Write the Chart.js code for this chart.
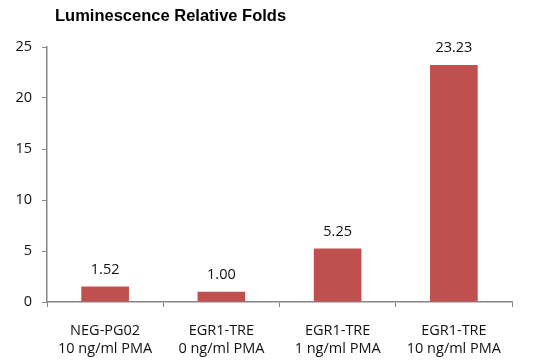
<!DOCTYPE html>
<html>
<head>
<meta charset="utf-8">
<script src="https://cdn.jsdelivr.net/npm/chart.js@4"></script>
<style>
  html, body { margin: 0; padding: 0; background: #fff; }
  #wrap { width: 544px; height: 364px; position: relative; }
</style>
</head>
<body>
<div id="wrap"><canvas id="myChart" width="544" height="364"></canvas></div>
<script>
const categories = [
  ["NEG-PG02", "10 ng/ml PMA"],
  ["EGR1-TRE", "0 ng/ml PMA"],
  ["EGR1-TRE", "1 ng/ml PMA"],
  ["EGR1-TRE", "10 ng/ml PMA"]
];
const folds = [1.52, 1.00, 5.25, 23.23];
const yTicks = [0, 5, 10, 15, 20, 25];
const chartTitle = "Luminescence Relative Folds";

const tickFont = { family: "'Open Sans', sans-serif", size: 14.5, lineHeight: 1.25 };

// title + value labels drawn on the canvas
const extras = {
  id: 'extras',
  afterDraw(chart) {
    const ctx = chart.ctx;
    ctx.save();
    ctx.fillStyle = '#000';
    ctx.font = "bold 16.5px 'Liberation Sans', Arial, sans-serif";
    ctx.textBaseline = 'middle';
    ctx.textAlign = 'left';
    ctx.fillText(chartTitle, 55, 16);

    ctx.fillStyle = '#111';
    ctx.font = "14.5px 'Open Sans', sans-serif";
    ctx.textAlign = 'center';
    const meta = chart.getDatasetMeta(0);
    meta.data.forEach((bar, i) => {
      ctx.fillText(folds[i].toFixed(2), bar.x, bar.y - 17);
    });
    ctx.restore();
  }
};

new Chart(document.getElementById('myChart'), {
  type: 'bar',
  data: {
    labels: categories,
    datasets: [{
      data: folds,
      backgroundColor: '#C0504D',
      borderWidth: 0,
      categoryPercentage: 1,
      barPercentage: 0.41
    }]
  },
  options: {
    responsive: false,
    animation: false,
    layout: { padding: { top: 47, right: 32, left: 0, bottom: 0 } },
    plugins: { legend: { display: false }, tooltip: { enabled: false } },
    scales: {
      x: {
        grid: { offset: true, drawOnChartArea: false, tickLength: 5, color: '#868686', lineWidth: 1 },
        border: { color: '#868686', width: 1.5 },
        ticks: { color: '#111', font: tickFont, padding: 15, maxRotation: 0 },
        afterFit(scale) { scale.height = 62; }
      },
      y: {
        min: 0,
        max: 25,
        afterBuildTicks(scale) { scale.ticks = yTicks.map(v => ({ value: v })); },
        grid: { drawOnChartArea: false, tickLength: 5, color: '#868686', lineWidth: 1 },
        border: { color: '#868686', width: 1.5 },
        ticks: { color: '#111', font: tickFont, padding: 10 },
        afterFit(scale) { scale.width = 47; }
      }
    }
  },
  plugins: [extras]
});
</script>
</body>
</html>
